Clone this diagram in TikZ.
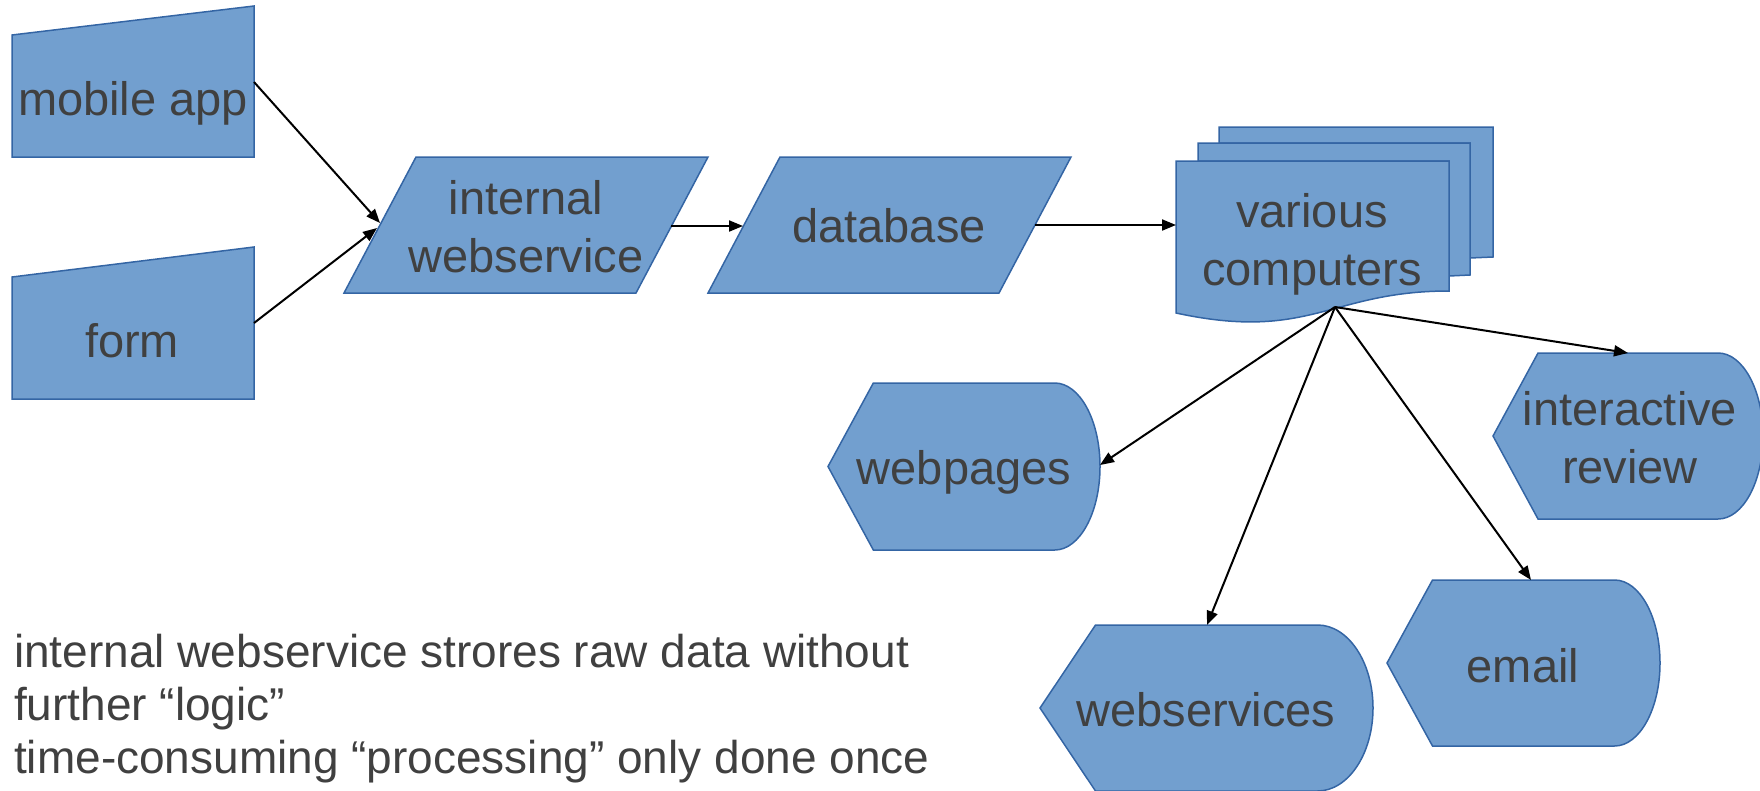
\documentclass[tikz,border=0pt]{standalone}
\usepackage{fontspec}
\setmainfont{Liberation Sans}
\usetikzlibrary{arrows.meta}

\definecolor{boxfill}{RGB}{114,159,207}
\definecolor{boxline}{RGB}{52,101,164}
\definecolor{inkgray}{RGB}{64,64,64}

\newcommand\labelfont{\fontsize{47}{58}\selectfont}
\newcommand\notefont{\fontsize{46}{53}\selectfont}

% flowchart "display" symbol: left x, top y, width, height
\newcommand\dispshape[4]{%
  \pgfmathsetmacro\dA{#1+#3/6}%
  \pgfmathsetmacro\dB{#1+5*#3/6}%
  \pgfmathsetmacro\dM{#2+#4/2}%
  \pgfmathsetmacro\dBot{#2+#4}%
  \pgfmathsetmacro\dR{#1+#3}%
  \pgfmathsetmacro\dkx{\dB+0.5523*#3/6}%
  \pgfmathsetmacro\dky{0.5523*#4/2}%
  \path[boxshape] (#1,\dM) -- (\dA,#2) -- (\dB,#2)
    .. controls (\dkx,#2) and (\dR,\dM-\dky) .. (\dR,\dM)
    .. controls (\dR,\dM+\dky) and (\dkx,\dBot) .. (\dB,\dBot)
    -- (\dA,\dBot) -- cycle;%
}

\begin{document}
\begin{tikzpicture}[x=1pt,y=-1pt,
  boxshape/.style={fill=boxfill, draw=boxline, line width=1.5pt, line join=miter},
  lbl/.style={font=\labelfont, text=inkgray, inner sep=0pt, anchor=base},
  note/.style={font=\notefont, text=inkgray, inner sep=0pt, anchor=base west},
  conn/.style={draw=black, line width=2pt, -{Triangle[length=14pt,width=11pt]}}]

\useasboundingbox (0,0) rectangle (1760,790);

% manual inputs
\path[boxshape] (12,35) -- (254,6) -- (254,157) -- (12,157) -- cycle;
\node[lbl] (mobile) at (133,115) {mobile app};
\path[boxshape] (12,277) -- (254,247) -- (254,399) -- (12,399) -- cycle;
\node[lbl] (form) at (132,357) {form};

% data (parallelograms)
\path[boxshape] (416,157) -- (708,157) -- (636,293) -- (344,293) -- cycle;
\node[lbl] (iws) at (526,214) {\begin{tabular}[t]{@{}c@{}}internal\\webservice\end{tabular}};
\path[boxshape] (780,157) -- (1071,157) -- (999,293) -- (708,293) -- cycle;
\node[lbl] (db) at (889,242) {database};

% multi-document
\path[boxshape] (1219,143) -- (1219,127) -- (1493,127) -- (1493,257) -- (1470,258) -- (1470,143) -- cycle;
\path[boxshape] (1198,161) -- (1198,143) -- (1470,143) -- (1470,275) -- (1449,276) -- (1449,161) -- cycle;
\path[boxshape] (1176,161) -- (1449,161) -- (1449,291)
  .. controls (1330,291) and (1310,342) .. (1176,313) -- cycle;
\node[lbl] (vc) at (1312,227) {\begin{tabular}[t]{@{}c@{}}various\\computers\end{tabular}};

% displays
\dispshape{828}{383}{272}{167}
\node[lbl] (wp) at (964,484) {webpages};
\dispshape{1040}{625}{333}{166}
\node[lbl] (wss) at (1206,726) {webservices};
\dispshape{1387}{580}{273}{166}
\node[lbl] (em) at (1523,682) {email};
\dispshape{1493}{353}{270}{166}
\node[lbl] (ir) at (1630,425) {\begin{tabular}[t]{@{}c@{}}interactive\\review\end{tabular}};

% connector ends on the shape outlines
\coordinate (mob-out) at (254,82);
\coordinate (form-out) at (254,323);
\coordinate (iws-in1) at (380,223);
\coordinate (iws-in2) at (377,228);
\coordinate (iws-out) at (671,226);
\coordinate (db-in) at (743,226);
\coordinate (db-out) at (1035,225);
\coordinate (vc-in) at (1176,225);
\coordinate (vc-out) at (1335,307);
\coordinate (wp-in) at (1100,465);
\coordinate (wss-in) at (1207,625);
\coordinate (em-in) at (1531,580);
\coordinate (ir-in) at (1628,353);

\draw[conn] (mob-out) -- (iws-in1);
\draw[conn] (form-out) -- (iws-in2);
\draw[conn] (iws-out) -- (db-in);
\draw[conn] (db-out) -- (vc-in);
\draw[conn] (vc-out) -- (wp-in);
\draw[conn] (vc-out) -- (wss-in);
\draw[conn] (vc-out) -- (em-in);
\draw[conn] (vc-out) -- (ir-in);

% remarks
\node[note] (remarks) at (14,667) {\begin{tabular}[t]{@{}l@{}}internal webservice strores raw data without\\further “logic”\\time-consuming “processing” only done once\end{tabular}};
\end{tikzpicture}
\end{document}
